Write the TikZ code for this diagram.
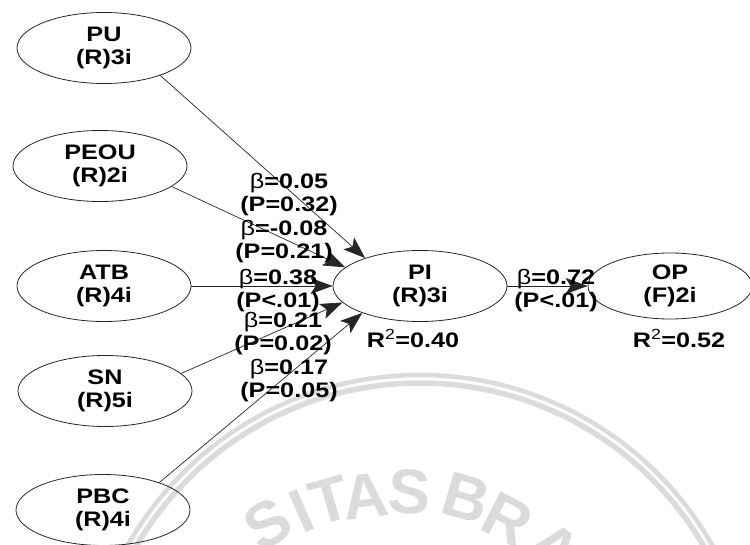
\documentclass[tikz,border=0pt]{standalone}
\usepackage{fontspec}
\setmainfont{Liberation Sans}
\newfontfamily\diagfont{Liberation Sans}[FakeStretch=1.2]
\usetikzlibrary{arrows.meta,shapes.geometric}
\begin{document}
\begin{tikzpicture}[x=1pt,y=-1pt,
  construct/.style={ellipse, draw=black!85, line width=0.8pt,
    minimum width=174pt, minimum height=71pt, inner sep=0pt, align=center,
    font=\diagfont\bfseries\fontsize{21}{23}\selectfont},
  link/.style={draw=black!85, line width=0.7pt,
    -{Stealth[length=22pt,width=16pt,inset=5pt]}},
  coef/.style={align=center, inner sep=0pt,
    font=\diagfont\bfseries\fontsize{21}{23}\selectfont},
  seal/.style={black!14},
  sealletter/.style={seal, inner sep=0pt,
    font=\bfseries\fontsize{63}{63}\selectfont}
]
\useasboundingbox (0,0) rectangle (750,545);

% faint university seal in the background
\begin{scope}
  \clip (0,0) rectangle (750,545);
  \draw[seal, line width=4.5pt] (420,711) circle[radius=336];
  \draw[seal, line width=5.5pt] (420,711) circle[radius=328];
  \node[sealletter, rotate=32]  (w1) at (268,524) {S};
  \node[sealletter, rotate=24]  (w2) at (302,511) {I};
  \node[sealletter, rotate=16]  (w3) at (330,500) {T};
  \node[sealletter, rotate=7]   (w4) at (365,496) {A};
  \node[sealletter, rotate=-3]  (w5) at (410,492) {S};
  \node[sealletter, rotate=-16] (w6) at (466,498) {B};
  \node[sealletter, rotate=-27] (w7) at (508,520) {R};
  \node[sealletter, rotate=-38] (w8) at (555,548) {A};
\end{scope}

% constructs
\node[construct] (PU)   at (104,48)  {PU\\(R)3i};
\node[construct] (PEOU) at (100,166) {PEOU\\(R)2i};
\node[construct] (ATB)  at (104,286) {ATB\\(R)4i};
\node[construct] (SN)   at (105,391) {SN\\(R)5i};
\node[construct] (PBC)  at (103,510) {PBC\\(R)4i};
\node[construct] (PI)   at (420,286) {PI\\(R)3i};
\node[construct, minimum width=164pt, minimum height=66pt] (OP) at (670,286) {OP\\(F)2i};

% structural paths
\draw[link] (PU.-26.6) -- (PI.153);
\draw[link] (PEOU.-16) -- (PI.166);
\draw[link] (ATB.0)    -- (PI.180);
\draw[link] (SN.13.7)  -- (PI.192);
\draw[link] (PBC.26)   -- (PI.205);
\draw[link] (PI.0)     -- (OP.180);

% path coefficients
\node[coef] (c1) at (289,195)   {{\mdseries β}=0.05\\(P=0.32)};
\node[coef] (c2) at (284,241.5) {{\mdseries β}=-0.08\\(P=0.21)};
\node[coef] (c3) at (278,290.5) {{\mdseries β}=0.38\\(P<.01)};
\node[coef] (c4) at (283,333.5) {{\mdseries β}=0.21\\(P=0.02)};
\node[coef] (c5) at (289,380.5) {{\mdseries β}=0.17\\(P=0.05)};
\node[coef] (c6) at (556,290.5) {{\mdseries β}=0.72\\(P<.01)};

% explained variance
\node[coef] (r1) at (413,338.5) {R{\mdseries\textsuperscript{2}}=0.40};
\node[coef] (r2) at (679,338.5) {R{\mdseries\textsuperscript{2}}=0.52};
\end{tikzpicture}
\end{document}
